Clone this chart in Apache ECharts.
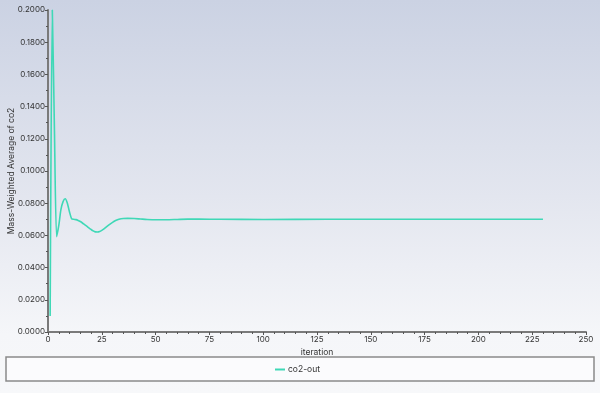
<!DOCTYPE html>
<html>
<head>
<meta charset="utf-8">
<script src="https://cdn.jsdelivr.net/npm/echarts@6/dist/echarts.min.js"></script>
<style>
html,body{margin:0;padding:0;width:600px;height:393px;overflow:hidden;
background:linear-gradient(to bottom,#cbd2e3 0%,#e3e6ef 50%,#f5f6f9 85%,#f7f8fa 100%);}
#c{width:600px;height:393px;}
</style>
</head>
<body>
<div id="c"></div>
<script>
const seriesName = 'co2-out';
const iterations = [1,2,3,4,5,6,7,8,9,10,11,12,13,14,15,16,17,18,19,20,21,22,23,24,25,26,27,28,29,30,31,32,33,34,35,37,40,43,46,50,55,60,65,70,80,100,130,160,200,230];
const values = [0.0100,0.2000,0.1250,0.0592,0.0660,0.0760,0.0810,0.0828,0.0800,0.0745,0.0703,0.0700,0.0698,0.0693,0.0686,0.0677,0.0667,0.0657,0.0647,0.0637,0.0628,0.0622,0.0621,0.0624,0.0631,0.0640,0.0651,0.0662,0.0672,0.0681,0.0689,0.0695,0.0700,0.0703,0.0705,0.0706,0.0705,0.0702,0.0699,0.0697,0.0697,0.0699,0.0701,0.0701,0.0700,0.0699,0.0700,0.0700,0.0700,0.0700];
const xTicks = {min:0,max:250,interval:25};
const yTicks = {min:0,max:0.2,interval:0.02};
const xName = 'iteration';
const yName = 'Mass-Weighted Average of co2';

const chart = echarts.init(document.getElementById('c'), null, {renderer:'canvas'});
const font = 'Inter, "Noto Sans", sans-serif';
chart.setOption({
  animation:false,
  backgroundColor:'transparent',
  textStyle:{fontFamily:font},
  grid:{left:48,right:14,top:10,bottom:61,containLabel:false,outerBoundsMode:'none'},
  graphic:[{type:'rect',shape:{x:6,y:357,width:588,height:24},style:{fill:'#fbfbfd',stroke:'#8a8a8a',lineWidth:1.5},z:-1}],
  legend:{top:360,left:270,itemWidth:10,itemHeight:2,itemGap:4,icon:'rect',
    textStyle:{fontSize:8.5,color:'#333',fontFamily:font,padding:[0,0,0,-2]},data:[seriesName]},
  xAxis:{type:'value',min:xTicks.min,max:xTicks.max,interval:xTicks.interval,
    name:xName,nameLocation:'middle',nameGap:16,nameMoveOverlap:false,nameTextStyle:{fontSize:8.5,color:'#333',align:'center'},
    axisLine:{lineStyle:{color:'#7a7a7a',width:2}},
    axisTick:{show:true,length:3,lineStyle:{color:'#555'}},
    minorTick:{show:true,splitNumber:5,length:2,lineStyle:{color:'#555'}},
    splitLine:{show:false},
    axisLabel:{fontSize:8,color:'#333',margin:4}},
  yAxis:{type:'value',min:yTicks.min,max:yTicks.max,interval:yTicks.interval,
    name:yName,nameLocation:'middle',nameGap:32,nameMoveOverlap:false,nameTextStyle:{fontSize:8.5,color:'#333'},
    axisLine:{show:true,lineStyle:{color:'#7a7a7a',width:2}},
    axisTick:{show:true,length:3,lineStyle:{color:'#555'}},
    minorTick:{show:true,splitNumber:2,length:2,lineStyle:{color:'#555'}},
    splitLine:{show:false},
    axisLabel:{fontSize:8,color:'#333',margin:3,formatter:v=>v.toFixed(4)}},
  series:[{name:seriesName,type:'line',showSymbol:false,smooth:0.25,
    lineStyle:{color:'#3fd8b6',width:1.6},itemStyle:{color:'#3fd8b6'},
    data:iterations.map((x,i)=>[x,values[i]])}]
});
</script>
</body>
</html>
